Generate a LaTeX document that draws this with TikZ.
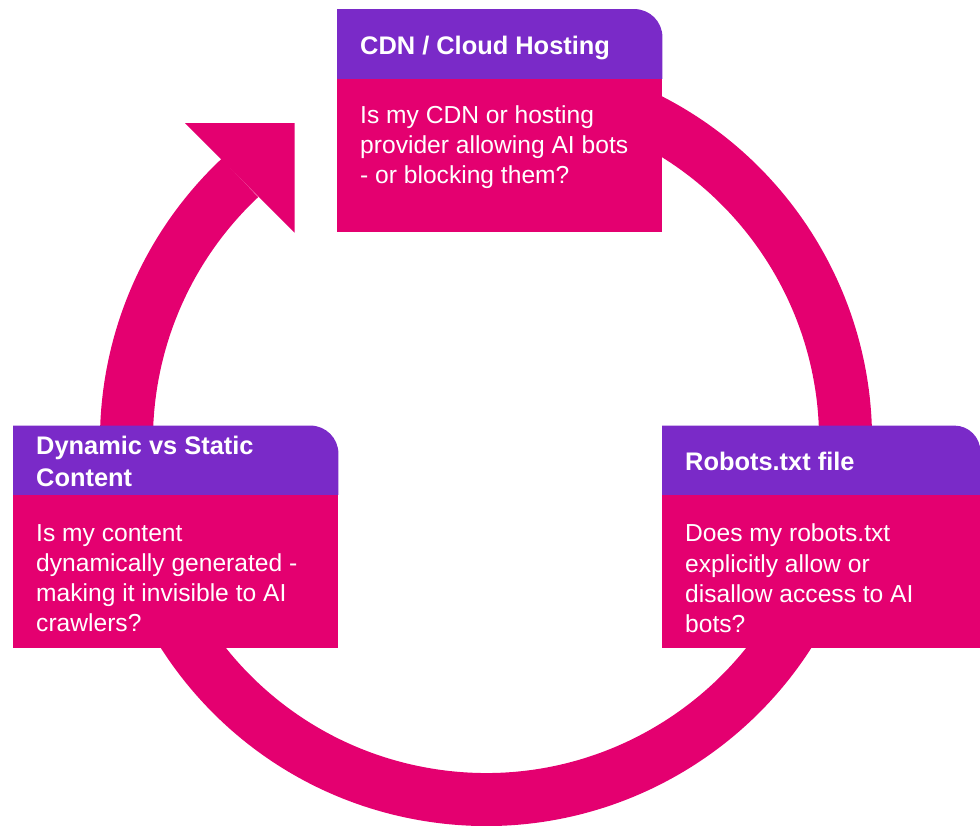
\documentclass[tikz,border=0pt]{standalone}
\usepackage{fontspec}
\setmainfont{Liberation Sans}
\usetikzlibrary{calc}

\definecolor{ringpink}{RGB}{228,0,112}
\definecolor{headpurple}{RGB}{122,42,200}

\tikzset{
  ring/.style={draw=ringpink, line width=53pt, line cap=butt},
  bodybox/.style={fill=ringpink, inner sep=0pt, anchor=south west},
  headbox/.style={inner sep=0pt, anchor=south west},
  headfill/.style={fill=headpurple},
  headtxt/.style={text=white, inner sep=0pt, anchor=north west, align=left,
    font=\fontsize{25.4}{31.5}\selectfont\bfseries},
  bodytxt/.style={text=white, inner sep=0pt, anchor=north west, align=left,
    font=\fontsize{24.6}{30.2}\selectfont},
}

\begin{document}
\begin{tikzpicture}[x=1pt,y=1pt]
\useasboundingbox (0,0) rectangle (980,826);

% circular flow ring with its arrow head
\coordinate (C) at (486,386);
\coordinate (S) at ($(C)+(80:359.5)$);
\coordinate (E) at ($(C)+(133.2:359.5)$);
\draw[ring] (S) arc[start angle=80, end angle=-226.8, radius=359.5];
\fill[ringpink] ($(E)+(135:77.5)$) -- ($(E)+(45:77.5)$) -- ($(E)+(-45:77.5)$) -- cycle;

% CDN / Cloud Hosting card
\node[bodybox, minimum width=325pt, minimum height=153pt] (cdnbody) at (337,594) {};
\node[headbox, minimum width=325pt, minimum height=69.5pt] (cdnhead) at (337,747) {};
\fill[headfill] (cdnhead.south west) -- (cdnhead.north west) -- ([xshift=-28pt]cdnhead.north east)
  arc[start angle=90, end angle=0, radius=28pt] -- (cdnhead.south east) -- cycle;
\node[headtxt] (cdntitle) at (360,789.6) {CDN / Cloud Hosting};
\node[bodytxt] (cdntext) at (360,720.8) {Is my CDN or hosting\\provider allowing AI bots\\- or blocking them?};

% Dynamic vs Static Content card
\node[bodybox, minimum width=325pt, minimum height=153pt] (dynbody) at (13,178) {};
\node[headbox, minimum width=325pt, minimum height=69pt] (dynhead) at (13,331) {};
\fill[headfill] (dynhead.south west) -- (dynhead.north west) -- ([xshift=-28pt]dynhead.north east)
  arc[start angle=90, end angle=0, radius=28pt] -- (dynhead.south east) -- cycle;
\node[headtxt] (dyntitle) at (36,389.6) {Dynamic vs Static\\Content};
\node[bodytxt] (dyntext) at (36,302.1) {Is my content\\dynamically generated -\\making it invisible to AI\\crawlers?};

% Robots.txt file card
\node[bodybox, minimum width=318pt, minimum height=153pt] (robbody) at (662,178) {};
\node[headbox, minimum width=318pt, minimum height=69pt] (robhead) at (662,331) {};
\fill[headfill] (robhead.south west) -- (robhead.north west) -- ([xshift=-26pt]robhead.north east)
  arc[start angle=90, end angle=0, radius=26pt] -- (robhead.south east) -- cycle;
\node[headtxt] (robtitle) at (685,373.6) {Robots.txt file};
\node[bodytxt] (robtext) at (685,302.1) {Does my robots.txt\\explicitly allow or\\disallow access to AI\\bots?};
\end{tikzpicture}
\end{document}
